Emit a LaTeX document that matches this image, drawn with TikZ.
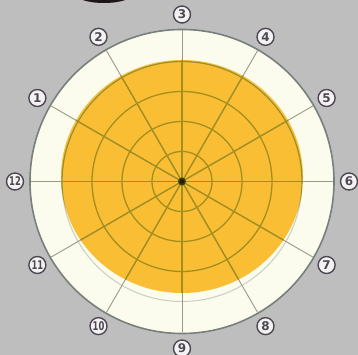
\documentclass[tikz,border=0pt]{standalone}
\usetikzlibrary{calc}
\usepackage{fontspec}
\newfontfamily\labfont{DejaVu Sans}
\definecolor{bg}{HTML}{BFBEBE}
\definecolor{cream}{HTML}{FBFBEE}
\definecolor{orangeA}{HTML}{F9BE34}
\definecolor{olive2}{HTML}{A48E1E}
\definecolor{spokegray}{HTML}{9A9A84}
\definecolor{outercol}{HTML}{77807A}
\definecolor{labcol}{HTML}{4E4652}
\definecolor{labfill}{HTML}{F3F2F2}
\definecolor{faint}{HTML}{C8D0C0}
\definecolor{smudge}{HTML}{1C1616}
\begin{document}
\begin{tikzpicture}[x=1pt,y=1pt,
  lab/.style={circle,draw=labcol,line width=1.4pt,fill=labfill,inner sep=0pt,
    minimum size=17pt,font=\labfont\bfseries\fontsize{12}{12}\selectfont,text=labcol},
  spokeg/.style={draw=spokegray,line width=0.9pt},
  spokeo/.style={draw=olive2,line width=1.4pt},
  ringo/.style={draw=olive2,line width=1.3pt}]
\useasboundingbox (0,0) rectangle (358,355);
\fill[bg] (0,0) rectangle (358,355);
\fill[smudge] (104,362) ellipse (30 and 10);
\coordinate (C) at (182,173.5);
% outer white disk
\draw[draw=outercol,line width=1.6pt,fill=cream] (C) circle (152);
% orange disk
\fill[orangeA] (182,178.5) ellipse (121 and 116.5);
\draw[faint,line width=1pt] (C) circle (120);
% gray spokes
\foreach \a in {0,30,...,330}{
  \draw[spokeg] (C) -- ($(C)+(\a:151)$);
}
% olive spokes and rings inside orange
\begin{scope}
  \clip (182,178.5) ellipse (121 and 116.5);
  \foreach \a in {0,30,...,330}{
    \draw[spokeo] (C) -- ($(C)+(\a:125)$);
  }
  \foreach \r in {30,60,90,120}{
    \draw[ringo] (C) circle (\r);
  }
\end{scope}
% centre dot
\fill[black!70!olive2,opacity=0.85] (C) circle (4);
\fill[black!80!olive2] (C) circle (2.2);
% labels
\foreach \n in {1,...,9}{
  \node[lab] (l\n) at ($(C)+({180-30*\n}:167)$) {\n};
}
\foreach \n in {10,11,12}{
  \node[lab] (l\n) at ($(C)+({180-30*\n}:167)$) {\scalebox{0.7}[1]{\n}};
}
\end{tikzpicture}
\end{document}
